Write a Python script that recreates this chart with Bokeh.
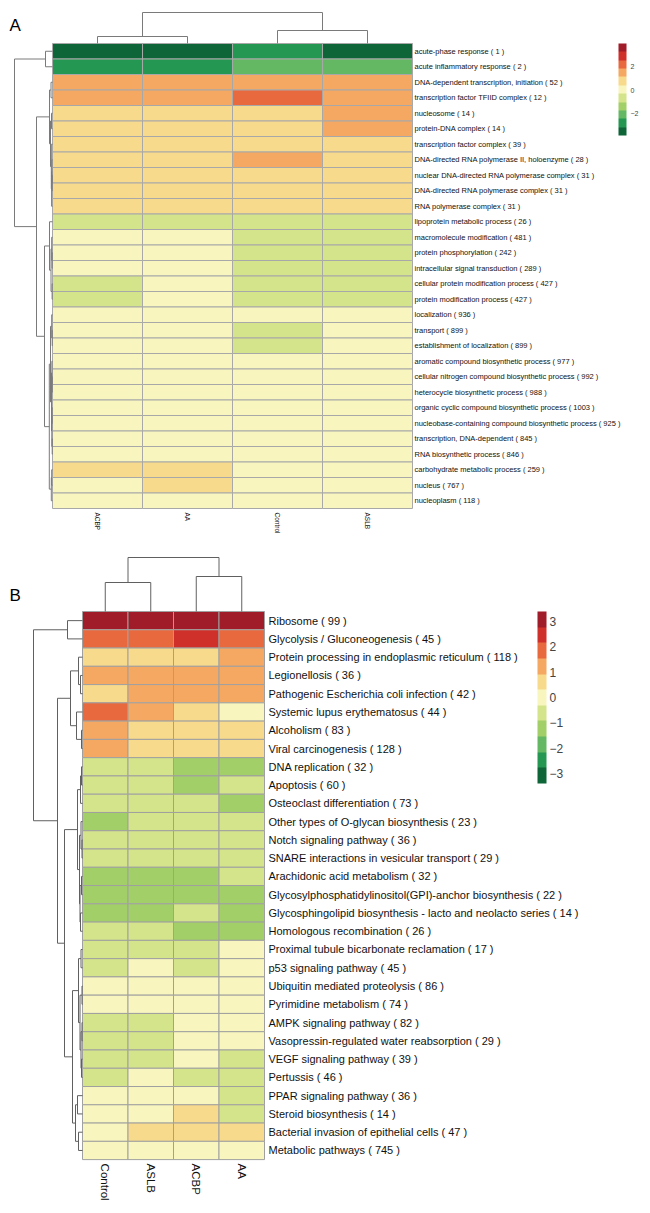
import numpy as np
from bokeh.plotting import figure
from bokeh.models import ColumnDataSource, LinearColorMapper, ColorBar, FixedTicker, Range1d
from bokeh.layouts import column
from bokeh.embed import file_html
from bokeh.resources import INLINE
from bokeh.core.properties import value
from bokeh.transform import transform

PALETTE = ["#0e6538", "#249852", "#65b863", "#a2cf68", "#d4e48a", "#f8f6be",
           "#f8da8c", "#f4a862", "#e9693f", "#d0302a", "#9f1c28"]

# ---------------- Panel A data ----------------
A_COLS = ["ACBP", "AA", "Control", "ASLB"]
A_ROWS = [
    "acute-phase response ( 1 )", "acute inflammatory response ( 2 )",
    "DNA-dependent transcription, initiation ( 52 )", "transcription factor TFIID complex ( 12 )",
    "nucleosome ( 14 )", "protein-DNA complex ( 14 )", "transcription factor complex ( 39 )",
    "DNA-directed RNA polymerase II, holoenzyme ( 28 )",
    "nuclear DNA-directed RNA polymerase complex ( 31 )",
    "DNA-directed RNA polymerase complex ( 31 )", "RNA polymerase complex ( 31 )",
    "lipoprotein metabolic process ( 26 )", "macromolecule modification ( 481 )",
    "protein phosphorylation ( 242 )", "intracellular signal transduction ( 289 )",
    "cellular protein modification process ( 427 )", "protein modification process ( 427 )",
    "localization ( 936 )", "transport ( 899 )", "establishment of localization ( 899 )",
    "aromatic compound biosynthetic process ( 977 )",
    "cellular nitrogen compound biosynthetic process ( 992 )",
    "heterocycle biosynthetic process ( 988 )",
    "organic cyclic compound biosynthetic process ( 1003 )",
    "nucleobase-containing compound biosynthetic process ( 925 )",
    "transcription, DNA-dependent ( 845 )", "RNA biosynthetic process ( 846 )",
    "carbohydrate metabolic process ( 259 )", "nucleus ( 767 )", "nucleoplasm ( 118 )"]
A_ACBP = [-3.6, -2.8, 1.5, 1.5, 0.8, 0.8, 0.8, 0.8, 0.8, 0.8, 0.8, -0.6, 0.1, 0.1, 0.1,
          -0.6, -0.6, 0.1, 0.1, 0.1, 0.1, 0.1, 0.1, 0.1, 0.1, 0.1, 0.1, 0.8, 0.1, 0.1]
A_AA = [-3.6, -2.8, 1.5, 1.5, 0.8, 0.8, 0.8, 0.8, 0.8, 0.8, 0.8, -0.6, 0.1, 0.1, 0.1,
        0.1, 0.1, 0.1, 0.1, 0.1, 0.1, 0.1, 0.1, 0.1, 0.1, 0.1, 0.1, 0.8, 0.8, 0.1]
A_CONTROL = [-2.8, -2.0, 1.5, 2.2, 0.8, 0.8, 0.8, 1.5, 0.8, 0.8, 0.8, -0.6, -0.6, -0.6, -0.6,
             -0.6, -0.6, 0.1, -0.6, -0.6, 0.1, 0.1, 0.1, 0.1, 0.1, 0.1, 0.1, 0.1, 0.1, 0.1]
A_ASLB = [-3.6, -2.0, 1.5, 1.5, 1.5, 1.5, 0.8, 0.8, 0.8, 0.8, 0.8, -0.6, -0.6, -0.6, -0.6,
          -0.6, -0.6, 0.1, 0.1, 0.1, 0.1, 0.1, 0.1, 0.1, 0.1, 0.1, 0.1, 0.1, 0.1, 0.1]
A_LOW, A_HIGH = -3.9, 4.0
A_TICKS = [-2, 0, 2]
# dendrograms: (left, right, merge height)
A_ROW_TREE = ((0, 1, 7.0),
              (((2, 3, 1.5), ((4, 5, 1.0), (6, ((7, (8, 9, 0.3), 0.6), 10, 0.9), 1.2), 2.0), 3.0),
               ((11, ((12, (13, 14, 0.4), 0.8), (15, 16, 0.4), 1.5), 3.0),
                (((17, (18, 19, 0.3), 0.8),
                  ((20, (21, 22, 0.3), 0.6), ((23, 24, 0.4), (25, 26, 0.3), 0.7), 1.0), 2.0),
                 ((27, 28, 0.8), 29, 1.2), 3.2), 8.0), 16.0), 38.0)
A_COL_TREE = ((0, 1, 7.0), (2, 3, 13.0), 31.0)

# ---------------- Panel B data ----------------
B_COLS = ["Control", "ASLB", "ACBP", "AA"]
B_ROWS = [
    "Ribosome ( 99 )", "Glycolysis / Gluconeogenesis ( 45 )",
    "Protein processing in endoplasmic reticulum ( 118 )", "Legionellosis ( 36 )",
    "Pathogenic Escherichia coli infection ( 42 )", "Systemic lupus erythematosus ( 44 )",
    "Alcoholism ( 83 )", "Viral carcinogenesis ( 128 )", "DNA replication ( 32 )",
    "Apoptosis ( 60 )", "Osteoclast differentiation ( 73 )",
    "Other types of O-glycan biosynthesis ( 23 )", "Notch signaling pathway ( 36 )",
    "SNARE interactions in vesicular transport ( 29 )", "Arachidonic acid metabolism ( 32 )",
    "Glycosylphosphatidylinositol(GPI)-anchor biosynthesis ( 22 )",
    "Glycosphingolipid biosynthesis - lacto and neolacto series ( 14 )",
    "Homologous recombination ( 26 )", "Proximal tubule bicarbonate reclamation ( 17 )",
    "p53 signaling pathway ( 45 )", "Ubiquitin mediated proteolysis ( 86 )",
    "Pyrimidine metabolism ( 74 )", "AMPK signaling pathway ( 82 )",
    "Vasopressin-regulated water reabsorption ( 29 )", "VEGF signaling pathway ( 39 )",
    "Pertussis ( 46 )", "PPAR signaling pathway ( 36 )", "Steroid biosynthesis ( 14 )",
    "Bacterial invasion of epithelial cells ( 47 )", "Metabolic pathways ( 745 )"]
B_CONTROL = [3.1, 1.9, 0.6, 1.2, 0.6, 1.9, 1.2, 1.2, -0.6, -0.6, -0.6, -1.2, -0.6, -0.6, -1.2,
             -1.2, -1.2, -0.6, -0.6, -0.6, 0.0, 0.0, -0.6, -0.6, -0.6, -0.6, 0.0, 0.0, 0.0, 0.0]
B_ASLB = [3.1, 1.9, 0.6, 1.2, 1.2, 1.2, 0.6, 0.6, -0.6, -0.6, -0.6, -0.6, -0.6, -0.6, -1.2,
          -1.2, -1.2, -0.6, -0.6, 0.0, 0.0, 0.0, -0.6, -0.6, -0.6, 0.0, 0.0, 0.0, 0.6, 0.0]
B_ACBP = [3.1, 2.5, 0.6, 1.2, 1.2, 0.6, 0.6, 0.6, -1.2, -1.2, -0.6, -0.6, -0.6, -0.6, -1.2,
          -1.2, -0.6, -1.2, -0.6, -0.6, 0.0, 0.0, 0.0, 0.0, 0.0, -0.6, 0.0, 0.6, 0.6, 0.0]
B_AA = [3.1, 1.9, 1.2, 1.2, 1.2, 0.0, 0.6, 0.6, -1.2, -0.6, -1.2, -0.6, -0.6, -0.6, -0.6,
        -1.2, -1.2, -1.2, 0.0, 0.0, 0.0, 0.0, 0.0, 0.0, -0.6, -0.6, -0.6, -0.6, 0.6, 0.0]
B_LOW, B_HIGH = -3.4, 3.4
B_TICKS = [-3, -2, -1, 0, 1, 2, 3]
B_ROW_TREE = ((0, 1, 15.0),
              (((2, (3, 4, 2.0), 4.0), (5, (6, 7, 1.0), 6.0), 12.0),
               ((((8, 9, 1.0), 10, 2.0), ((11, (12, 13, 0.5), 1.5), ((14, 15, 1.0), (16, 17, 2.0), 2.5), 3.0), 5.0),
                (((18, 19, 1.5), ((20, 21, 0.5), ((22, 23, 0.5), (24, 25, 1.0), 1.5), 2.5), 4.0),
                 ((26, 27, 5.0), (28, 29, 4.0), 7.0), 10.0), 18.0), 25.0), 49.0)
B_COL_TREE = ((0, 1, 29.0), (2, 3, 35.0), 54.0)


def tree_layout(node):
    if isinstance(node, int):
        return node + 0.5, 0.0, []
    l, r, h = node
    pl, hl, sl = tree_layout(l)
    pr, hr, sr = tree_layout(r)
    segs = sl + sr + [([pl, pl, pr, pr], [hl, h, h, hr])]
    return (pl + pr) / 2.0, h, segs


def minus(t):
    return str(t).replace("-", "\u2212")


def panel(letter, cols, rows, vals_by_col, low, high, ticks, row_tree, col_tree, g):
    ncol, nrow = len(cols), len(rows)
    cw, ch = g["cw"], g["ch"]
    x0 = -g["left"] / cw
    x1 = x0 + g["W"] / cw
    y1 = nrow + g["top"] / ch
    y0 = y1 - g["H"] / ch
    p = figure(width=g["W"], height=g["H"], x_range=Range1d(x0, x1), y_range=Range1d(y0, y1),
               output_backend="svg", toolbar_location=None, min_border=0,
               x_axis_type=None, y_axis_type=None, title=None)
    p.outline_line_color = None
    p.grid.visible = False

    mapper = LinearColorMapper(palette=PALETTE, low=low, high=high)
    xs, ys, vs = [], [], []
    for j, colvals in enumerate(vals_by_col):
        for i, v in enumerate(colvals):
            xs.append(j + 0.5)
            ys.append(nrow - i - 0.5)
            vs.append(v)
    src = ColumnDataSource(dict(x=xs, y=ys, v=vs))
    p.rect("x", "y", width=1, height=1, source=src, fill_color=transform("v", mapper),
           line_color=g["border"], line_width=1)

    # row dendrogram
    _, rh, rsegs = tree_layout(row_tree)
    sc = g["rdend"] / cw / rh
    p.multi_line([[-h * sc for h in s[1]] for s in rsegs], [[nrow - q for q in s[0]] for s in rsegs],
                 line_color=g["dcol"], line_width=1)
    # column dendrogram
    _, chh, csegs = tree_layout(col_tree)
    sc = g["cdend"] / ch / chh
    p.multi_line([s[0] for s in csegs], [[nrow + h * sc for h in s[1]] for s in csegs],
                 line_color=g["dcol"], line_width=1)

    # row labels
    p.text(x=[ncol] * nrow, y=[nrow - i - 0.5 for i in range(nrow)], text=rows,
           x_offset=g["rgap"], text_baseline="middle", text_align="left",
           text_font=value(g["rfont"]), text_font_size=g["rfs"], text_color="#111111")
    # column labels
    p.text(x=[j + 0.5 for j in range(ncol)], y=[0] * ncol, text=cols, angle=-np.pi / 2,
           y_offset=g["cgap"], text_baseline="middle", text_align="left",
           text_font=value(g["cfont"]), text_font_size=g["cfs"], text_color="#111111")
    # panel letter
    p.text(x=[x0 + g["lx"] / cw], y=[y1 - g["ly"] / ch], text=[letter], text_baseline="top",
           text_align="left", text_font=value("Liberation Sans"), text_font_size=g["lfs"],
           text_color="#000000")

    cb = ColorBar(color_mapper=mapper, ticker=FixedTicker(ticks=ticks),
                  major_label_overrides={t: minus(t) for t in ticks},
                  width=g["cbw"], height=g["cbh"], location=(g["cbx"], g["cby"]),
                  padding=0, margin=0, label_standoff=g["cbgap"],
                  major_label_text_font_size=g["cbfs"],
                  major_label_text_font=g["cbfont"],
                  major_tick_line_color=None, minor_tick_line_color=None,
                  bar_line_color=None, border_line_color=None, background_fill_alpha=0)
    p.add_layout(cb, "center")
    return p


GA = dict(W=650, H=548, left=52, top=43, cw=90, ch=15.5, rdend=38, cdend=31,
          border="#a8a8a8", dcol="#7a7a7a", rgap=2, rfont="Liberation Sans", rfs="7.5px",
          cgap=4, cfont="Liberation Sans", cfs="6.5px", lx=9, ly=15, lfs="17px",
          cbw=8, cbh=92, cbx=618, cby=548 - 43 - 92, cbgap=4, cbfs="7px", cbfont="Liberation Sans")
GB = dict(W=650, H=664, left=82, top=63, cw=45.5, ch=18.27, rdend=49, cdend=54,
          border="#a0a0a0", dcol="#606060", rgap=4, rfont="Liberation Sans Narrow, Liberation Sans",
          rfs="11px", cgap=4, cfont="Liberation Sans", cfs="11.5px", lx=9, ly=37, lfs="17px",
          cbw=9, cbh=172, cbx=537, cby=664 - 63 - 172, cbgap=3, cbfs="12px",
          cbfont="Liberation Sans Narrow, Liberation Sans")

pA = panel("A", A_COLS, A_ROWS, [A_ACBP, A_AA, A_CONTROL, A_ASLB], A_LOW, A_HIGH, A_TICKS,
           A_ROW_TREE, A_COL_TREE, GA)
pB = panel("B", B_COLS, B_ROWS, [B_CONTROL, B_ASLB, B_ACBP, B_AA], B_LOW, B_HIGH, B_TICKS,
           B_ROW_TREE, B_COL_TREE, GB)

layout = column(pA, pB, spacing=0)
open("out.html", "w").write(file_html(layout, INLINE))
